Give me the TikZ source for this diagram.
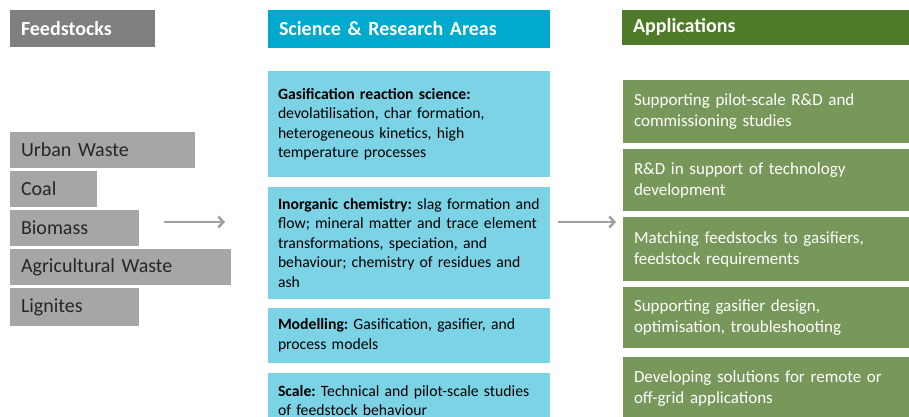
\documentclass[tikz,border=0pt]{standalone}
\usepackage{fontspec}
\setmainfont{Carlito}
\usetikzlibrary{arrows.meta}
\frenchspacing

\definecolor{feedhead}{HTML}{7F7F7F}
\definecolor{feedbox}{HTML}{A6A6A6}
\definecolor{feedtext}{HTML}{262626}
\definecolor{scihead}{HTML}{00A9CE}
\definecolor{scibox}{HTML}{7CD3E6}
\definecolor{apphead}{HTML}{4E7A29}
\definecolor{appbox}{HTML}{77985A}
\definecolor{arrowgray}{HTML}{A0A0A0}

\tikzset{
  base/.style={anchor=north west, inner ysep=0pt, outer sep=0pt,
    inner xsep=11pt, minimum width=#1, text width=#1-22pt, align=left,
    execute at begin node={\hyphenpenalty=10000\exhyphenpenalty=10000}},
  header/.style={base=#1, minimum height=37pt,
    text=white, font=\fontsize{20}{24}\selectfont\bfseries},
  feedhdr/.style={header=#1, fill=feedhead},
  scihdr/.style={header=#1, fill=scihead},
  apphdr/.style={header=#1, fill=apphead},
  feeditem/.style={base=#1, fill=feedbox, text=feedtext,
    minimum height=36pt, font=\fontsize{20}{24}\selectfont},
  sciitem/.style={base=282pt, inner xsep=10pt, text width=262pt,
    fill=scibox, text=black, minimum height=#1,
    font=\fontsize{15.7}{19.5}\selectfont},
  appitem/.style={base=300pt, fill=appbox, text=white,
    minimum height=#1, font=\fontsize{17}{21}\selectfont},
  flow/.style={draw=arrowgray, line width=2.5pt,
    -{Straight Barb[length=5pt,width=11pt,line width=2.5pt]}},
}

\begin{document}
\begin{tikzpicture}[x=1pt,y=-1pt]
\useasboundingbox (0,0) rectangle (909,417);
\clip (0,0) rectangle (909,417);

% column headers
\node[feedhdr=145pt] (hfeed) at (10,10) {Feedstocks};
\node[scihdr=282pt, minimum height=38pt] (hsci) at (268,10) {Science \& Research Areas};
\node[apphdr=300pt, minimum height=35pt] (happ) at (622,10) {Applications};

% feedstocks
\node[feeditem=185pt] (urban) at (10,132) {Urban Waste};
\node[feeditem=87pt]  (coal)  at (10,171) {Coal};
\node[feeditem=129pt] (bio)   at (10,210) {Biomass};
\node[feeditem=221pt] (agri)  at (10,249) {Agricultural Waste};
\node[feeditem=129pt, minimum height=38pt] (lig) at (10,288) {Lignites};

% science and research areas
\node[sciitem=106pt] (gasif) at (268,71)
  {\textbf{Gasification reaction science:}\\devolatilisation, char formation,\\heterogeneous kinetics, high\\temperature processes};
\node[sciitem=112pt] (inorg) at (268,187)
  {\textbf{Inorganic chemistry:} slag formation and\\flow; mineral matter and trace element\\transformations, speciation, and\\behaviour; chemistry of residues and\\ash};
\node[sciitem=55pt] (model) at (268,308)
  {\textbf{Modelling:} Gasification, gasifier, and\\process models};
\node[sciitem=55pt] (scale) at (268,373)
  {\textbf{Scale:} Technical and pilot-scale studies\\of feedstock behaviour};

% applications
\node[appitem=63pt] (pilot) at (623,80)
  {Supporting pilot-scale R\&D and\\commissioning studies};
\node[appitem=62pt] (tech) at (623,149)
  {R\&D in support of technology\\development};
\node[appitem=64pt] (match) at (623,217)
  {Matching feedstocks to gasifiers,\\feedstock requirements};
\node[appitem=61pt] (design) at (623,287)
  {Supporting gasifier design,\\optimisation, troubleshooting};
\node[appitem=64pt] (remote) at (623,357)
  {Developing solutions for remote or\\off-grid applications};

% flow arrows between the columns
\coordinate (f1) at (164,222);
\coordinate (f2) at (225,222);
\coordinate (s1) at (558,222);
\coordinate (s2) at (616,222);
\draw[flow] (f1) -- (f2);
\draw[flow] (s1) -- (s2);
\end{tikzpicture}
\end{document}
